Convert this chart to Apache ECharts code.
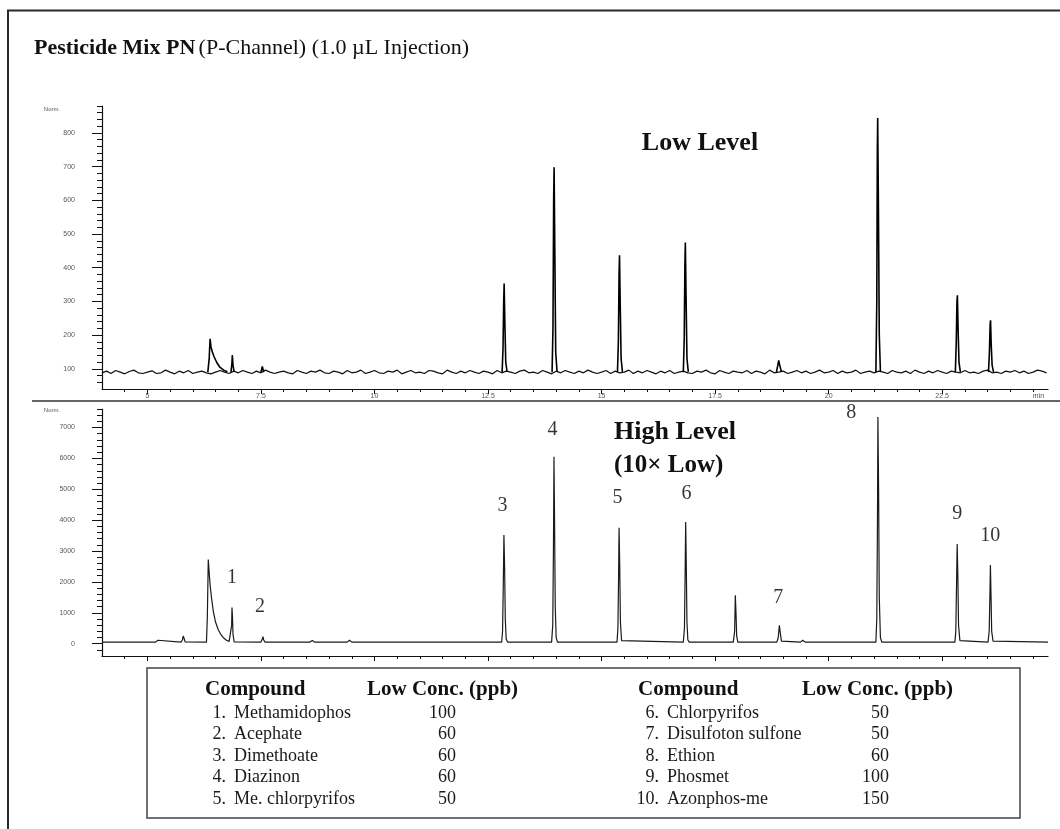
<!DOCTYPE html>
<html>
<head>
<meta charset="utf-8">
<script src="https://cdn.jsdelivr.net/npm/echarts@6/dist/echarts.min.js"></script>
<style>
html,body{margin:0;padding:0;background:#fff;}
#chart{width:1060px;height:829px;}
</style>
</head>
<body>
<div id="chart"></div>
<script>
// ---------------- DATA ----------------
// Low level (top) baseline, sampled every 0.1 min starting at 4.0 min
var topBaseStart = 4.0, topBaseStep = 0.1;
var topBaseline = [
 88,93,86,95,90,85,92,96,88,86,
 90,94,86,88,96,90,85,93,88,95,
 86,90,93,88,85,90,95,90,86,93,
 88,95,90,86,93,88,96,90,86,90,
 93,88,85,95,90,86,93,90,96,88,
 86,93,90,85,95,88,90,96,86,90,
 95,88,86,93,90,96,85,90,95,88,
 90,86,95,93,88,85,96,90,86,93,
 88,95,90,86,93,90,85,95,88,93,
 90,86,93,96,88,90,86,95,90,85,
 93,88,95,90,86,93,88,96,90,86,
 90,95,86,93,88,90,96,86,93,88,
 95,90,85,93,88,95,86,90,93,88,
 86,93,90,96,88,85,95,90,86,93,
 90,88,95,86,93,90,85,96,88,90,
 93,86,90,95,88,93,86,90,96,88,
 90,95,86,93,88,90,96,86,90,93,
 88,93,90,86,95,90,88,93,86,96,
 90,86,93,88,95,90,86,93,90,88,
 95,88,90,86,93,96,88,90,86,93,
 90,95,88,93,86,90,96,93,88
];
// Low level peaks: [time (min), signal]
var topPeaks = [
 [[6.33,90],[6.36,130],[6.38,189],[6.40,165],[6.43,150],[6.47,135],[6.53,118],[6.60,104],[6.68,96],[6.76,91]],
 [[6.84,90],[6.86,115],[6.87,141],[6.885,110],[6.91,91]],
 [[7.50,90],[7.53,107],[7.56,90]],
 [[12.81,90],[12.83,160],[12.845,300],[12.855,353],[12.87,240],[12.89,120],[12.92,91]],
 [[13.91,90],[13.93,220],[13.945,600],[13.955,698],[13.97,460],[13.99,150],[14.02,91]],
 [[15.35,90],[15.37,180],[15.385,380],[15.395,437],[15.41,300],[15.43,130],[15.46,91]],
 [[16.80,90],[16.82,190],[16.835,410],[16.845,475],[16.86,320],[16.88,130],[16.91,91]],
 [[18.85,90],[18.88,110],[18.90,125],[18.92,112],[18.96,91]],
 [[21.04,90],[21.06,300],[21.072,750],[21.08,844],[21.095,600],[21.115,200],[21.14,91]],
 [[22.79,90],[22.81,180],[22.825,300],[22.835,318],[22.85,220],[22.87,120],[22.90,91]],
 [[23.52,90],[23.54,150],[23.555,230],[23.565,244],[23.58,170],[23.60,110],[23.63,91]]
];
// High level (bottom) trace: [time (min), signal]
var bottomTrace = [
 [4.0,50],[5.18,50],[5.21,80],[5.23,110],[5.25,60],[5.27,50],
 [5.74,50],[5.77,120],[5.79,250],[5.81,200],[5.83,60],[5.86,50],
 [6.30,50],[6.32,900],[6.34,2727],[6.36,2300],[6.38,1900],[6.41,1500],[6.45,1050],[6.50,700],[6.56,450],[6.62,290],[6.68,180],[6.74,110],[6.80,75],
 [6.84,65],[6.855,600],[6.862,1169],[6.872,900],[6.885,300],[6.91,60],[6.95,50],
 [7.50,50],[7.53,150],[7.545,230],[7.56,120],[7.59,50],
 [8.58,50],[8.61,80],[8.63,100],[8.65,60],[8.68,50],
 [9.40,50],[9.43,90],[9.45,110],[9.47,60],[9.50,50],
 [12.80,50],[12.82,400],[12.835,1800],[12.85,3516],[12.865,2500],[12.88,800],[12.90,150],[12.93,50],
 [13.90,50],[13.925,600],[13.94,3000],[13.952,6050],[13.965,4000],[13.98,1200],[14.00,200],[14.03,50],
 [15.34,50],[15.36,500],[15.375,2200],[15.385,3750],[15.40,2500],[15.415,700],[15.44,100],[15.47,50],
 [16.80,50],[16.825,500],[16.84,2300],[16.852,3940],[16.865,2600],[16.88,700],[16.90,120],[16.93,50],
 [17.90,50],[17.93,400],[17.945,1570],[17.96,1000],[17.975,250],[18.00,50],
 [18.86,50],[18.89,200],[18.915,595],[18.935,350],[18.96,80],[18.99,50],
 [19.38,50],[19.41,80],[19.43,110],[19.45,60],[19.48,50],
 [21.04,50],[21.06,800],[21.075,4000],[21.085,7340],[21.10,5000],[21.115,1500],[21.14,200],[21.17,50],
 [22.78,50],[22.80,400],[22.815,1800],[22.83,3230],[22.845,2200],[22.86,600],[22.89,100],[22.92,50],
 [23.51,50],[23.535,400],[23.55,1500],[23.562,2545],[23.575,1600],[23.59,400],[23.62,80],[23.65,50],
 [24.83,50]
];
// Peak number labels (anchored in data space of the high-level panel)
var peakLabelNames = ['1','2','3','4','5','6','7','8','9','10'];
var peakLabelPos = [[6.86,2150],[7.48,1210],[12.82,4460],[13.92,6930],[15.35,4720],[16.87,4850],[18.89,1500],[20.50,7480],[22.83,4200],[23.56,3480]];

// Tick values
var xMajorTicks = [5,7.5,10,12.5,15,17.5,20,22.5];
var xMinorTicks = [4.5,5,5.5,6,6.5,7,7.5,8,8.5,9,9.5,10,10.5,11,11.5,12,12.5,13,13.5,14,14.5,15,15.5,16,16.5,17,17.5,18,18.5,19,19.5,20,20.5,21,21.5,22,22.5,23,23.5,24,24.5];
var topYMajor = [100,200,300,400,500,600,700,800];
var topYMinor = [60,80,100,120,140,160,180,200,220,240,260,280,300,320,340,360,380,400,420,440,460,480,500,520,540,560,580,600,620,640,660,680,700,720,740,760,780,800,820,840,860,880];
var botYMajor = [0,1000,2000,3000,4000,5000,6000,7000];
var botYMinor = [-200,0,200,400,600,800,1000,1200,1400,1600,1800,2000,2200,2400,2600,2800,3000,3200,3400,3600,3800,4000,4200,4400,4600,4800,5000,5200,5400,5600,5800,6000,6200,6400,6600,6800,7000,7200,7400,7600];

// Table
var compoundsA = ['Methamidophos','Acephate','Dimethoate','Diazinon','Me. chlorpyrifos'];
var concA = [100,60,60,60,50];
var compoundsB = ['Chlorpyrifos','Disulfoton sulfone','Ethion','Phosmet','Azonphos-me'];
var concB = [50,50,60,100,150];

// ---------------- CHART ----------------
var chart = echarts.init(document.getElementById('chart'), null, {renderer:'canvas'});
var SERIF = '"Liberation Serif","DejaVu Serif",serif';
var SANS = '"Liberation Sans",Arial,sans-serif';
var X_MIN = 4.0, X_MAX = 24.83;

var topBaseData = topBaseline.map(function(v,i){ return [topBaseStart + i*topBaseStep, v]; });

function xAx(grid, ticks, len, showLine, labels){
  var a = {
    type:'value', gridIndex:grid, min:X_MIN, max:X_MAX, position:'bottom',
    axisLine:{show:showLine, onZero:false, lineStyle:{color:'#111', width:1.2}},
    axisTick:{show:true, customValues:ticks, length:len, lineStyle:{color:'#111', width:1}},
    splitLine:{show:false},
    axisLabel:{show:false}
  };
  if (labels) {
    a.axisLabel = {show:true, customValues: xMajorTicks.concat([24.62]), margin:4,
      fontSize:7, color:'#555', fontFamily:SANS,
      formatter:function(v){ return v > 24 ? 'min' : String(v); }};
  }
  return a;
}
function yAx(grid, min, max, ticks, len, labels){
  var a = {
    type:'value', gridIndex:grid, min:min, max:max, position:'left',
    axisLine:{show:!labels, onZero:false, lineStyle:{color:'#111', width:1.2}},
    axisTick:{show:true, customValues:ticks, length:len, lineStyle:{color:'#111', width:1}},
    splitLine:{show:false},
    axisLabel:{show:false}
  };
  if (labels) {
    a.axisLabel = {show:true, customValues:ticks, margin:27, fontSize:7, color:'#555', fontFamily:SANS,
      formatter:function(v){ return String(v); }};
  }
  return a;
}

var series = [];
series.push({type:'line', xAxisIndex:0, yAxisIndex:0, data:topBaseData, symbol:'none',
  lineStyle:{color:'#111', width:1.2}, silent:true, animation:false});
topPeaks.forEach(function(p){
  series.push({type:'line', xAxisIndex:0, yAxisIndex:0, data:p, symbol:'none',
    lineStyle:{color:'#000', width:1.6}, silent:true, animation:false});
});
series.push({type:'line', xAxisIndex:2, yAxisIndex:2, data:bottomTrace, symbol:'none',
  lineStyle:{color:'#1a1a1a', width:1.2}, silent:true, animation:false});
series.push({type:'scatter', xAxisIndex:2, yAxisIndex:2, symbol:'circle', symbolSize:1,
  itemStyle:{color:'rgba(0,0,0,0)'}, silent:true, animation:false,
  data: peakLabelPos.map(function(p,i){ return {name:peakLabelNames[i], value:p}; }),
  label:{show:true, position:'inside', formatter:'{b}', fontFamily:SERIF, fontSize:20, color:'#000'}});

var graphics = [];
function line(x1,y1,x2,y2,w,c){
  graphics.push({type:'line', shape:{x1:x1,y1:y1,x2:x2,y2:y2}, style:{stroke:c||'#333', lineWidth:w}, silent:true});
}
function text(x,y,t,font,align,color){
  graphics.push({type:'text', x:x, y:y, style:{text:t, font:font, fill:color||'#111', textAlign:align||'left', textVerticalAlign:'middle'}, silent:true});
}
line(7,10.5,1060,10.5,2,'#2a2a2a');
line(8,10,8,829,2,'#2a2a2a');
line(32,401,1060,401,1.5,'#333');

graphics.push({type:'text', x:34, y:48, silent:true, style:{
  text:'{b|Pesticide Mix PN} {r|(P-Channel) (1.0 µL Injection)}',
  textVerticalAlign:'middle',
  rich:{ b:{font:'bold 22px '+SERIF, fill:'#111'}, r:{font:'22px '+SERIF, fill:'#111'} }
}});
text(700,143,'Low Level','bold 26px '+SERIF,'center');
text(614,432,'High Level','bold 26px '+SERIF,'left');
text(614,466,'(10× Low)','bold 25px '+SERIF,'left');
text(52,109,'Norm.','6px '+SANS,'center','#555');
text(52,410,'Norm.','6px '+SANS,'center','#555');

// table
graphics.push({type:'rect', shape:{x:147, y:668, width:873, height:150}, style:{fill:'none', stroke:'#444', lineWidth:1.5}, silent:true});
var hdrY = 690, rowY0 = 713, rowDy = 21.5;
var HF = 'bold 21px '+SERIF, RF = '18px '+SERIF;
text(205,hdrY,'Compound',HF,'left');
text(367,hdrY,'Low Conc. (ppb)',HF,'left');
text(638,hdrY,'Compound',HF,'left');
text(802,hdrY,'Low Conc. (ppb)',HF,'left');
compoundsA.forEach(function(c,i){
  var y = rowY0 + i*rowDy;
  text(226,y,(i+1)+'.',RF,'right','#1a1a1a');
  text(234,y,c,RF,'left','#1a1a1a');
  text(456,y,String(concA[i]),RF,'right','#1a1a1a');
});
compoundsB.forEach(function(c,i){
  var y = rowY0 + i*rowDy;
  text(659,y,(i+6)+'.',RF,'right','#1a1a1a');
  text(667,y,c,RF,'left','#1a1a1a');
  text(889,y,String(concB[i]),RF,'right','#1a1a1a');
});

var option = {
  backgroundColor:'#fff',
  animation:false,
  grid:[
    {left:102, top:106, width:946, height:283, outerBoundsMode:'none', containLabel:false},
    {left:102, top:409, width:946, height:247, outerBoundsMode:'none', containLabel:false}
  ],
  xAxis:[
    xAx(0, xMinorTicks, 3, true, false),
    xAx(0, xMajorTicks, 5, false, true),
    xAx(1, xMinorTicks, 3, true, false),
    xAx(1, xMajorTicks, 5, false, false)
  ],
  yAxis:[
    yAx(0, 40, 880, topYMinor, 5, false),
    yAx(0, 40, 880, topYMajor, 10, true),
    yAx(1, -400, 7600, botYMinor, 5, false),
    yAx(1, -400, 7600, botYMajor, 10, true)
  ],
  series: series,
  graphic: graphics
};
chart.setOption(option);
</script>
</body>
</html>
